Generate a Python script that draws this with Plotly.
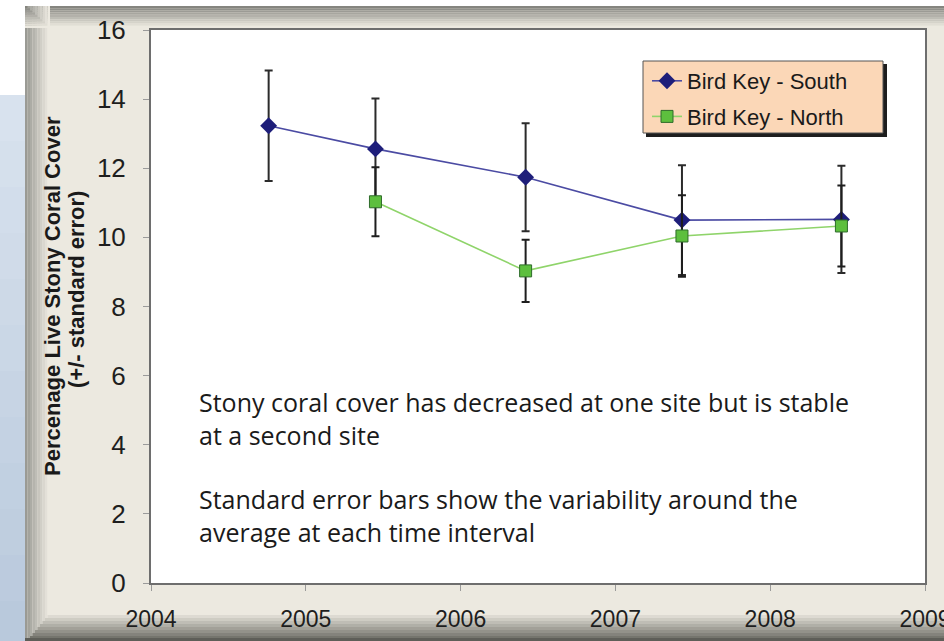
import plotly.graph_objects as go

# survey data (decimal year, % live stony coral cover, standard error)
years_south = [2004.76, 2005.45, 2006.42, 2007.43, 2008.46]
cover_south = [13.23, 12.56, 11.74, 10.50, 10.52]
se_south = [1.60, 1.46, 1.56, 1.59, 1.55]

years_north = [2005.45, 2006.42, 2007.43, 2008.46]
cover_north = [11.03, 9.03, 10.04, 10.33]
se_north = [1.00, 0.90, 1.18, 1.17]

x_ticks = [2004, 2005, 2006, 2007, 2008, 2009]
y_ticks = [0, 2, 4, 6, 8, 10, 12, 14, 16]

W, H = 944, 641
L, R, T, B = 151, 925, 30, 583
BEIGE = "#ECE9E0"


def px_x(x):
	return (x - L) / (R - L)


def px_y(y):
	return (B - y) / (B - T)


def mix(c1, c2, t):
	a = [int(c1[i:i + 2], 16) for i in (1, 3, 5)]
	b = [int(c2[i:i + 2], 16) for i in (1, 3, 5)]
	return "rgb(%d,%d,%d)" % tuple(round(a[k] + (b[k] - a[k]) * t) for k in range(3))


def rect(x0, y0, x1, y1, color, layer = "below"):
	return dict(type = "rect", xref = "paper", yref = "paper",
	            x0 = px_x(x0), x1 = px_x(x1), y0 = px_y(y1), y1 = px_y(y0),
	            fillcolor = color, line = dict(width = 0), layer = layer)


shapes = []
# photo strip on the left and the bevelled frame of the panel
shapes.append(rect(0, 0, 25, 95, "#FFFFFF"))
for i in range(12):
	y0 = 95 + i * 46
	shapes.append(rect(0, y0, 25, y0 + 46, mix("#D8E2EE", "#B9C9DC", i / 11)))
shapes.append(rect(25, 0, W, 6, "#FFFFFF"))
n = 10
for i in range(n):
	shapes.append(rect(25 + i * 2.5, 6, 25 + (i + 1) * 2.5, 641, mix("#9A9A94", BEIGE, i / (n - 1))))
	shapes.append(rect(25, 6 + i * 2.2, W, 6 + (i + 1) * 2.2, mix("#85857F", BEIGE, i / (n - 1))))
for i in range(n):
	y0 = 612 + i * 3
	shapes.append(rect(25 + (n - i) * 2.5, y0, W, y0 + 3, mix(BEIGE, "#66665F", i / (n - 1))))
shapes.append(rect(25, 641 - 3, W, 641, "#5E5E58"))

# legend box with its drop shadow
shapes.append(rect(646, 64, 887, 137, "#1E1E1E", layer = "above"))
shapes.append(dict(type = "rect", xref = "paper", yref = "paper",
                   x0 = px_x(643), x1 = px_x(883), y0 = px_y(133), y1 = px_y(61),
                   fillcolor = "#FBD7B7", line = dict(color = "#555555", width = 1), layer = "above"))

fig = go.Figure()

fig.add_trace(go.Scatter(
	x = years_south, y = cover_south, name = "Bird Key - South", mode = "lines+markers",
	legendgroup = "south",
	line = dict(color = "#4B4BA3", width = 1.6),
	marker = dict(symbol = "diamond", size = 13, color = "#1E1E7A", line = dict(width = 0)),
	error_y = dict(type = "data", array = se_south, color = "#2B2B2B", thickness = 2, width = 4),
))
fig.add_trace(go.Scatter(
	x = years_north, y = cover_north, name = "Bird Key - North", mode = "lines+markers",
	legendgroup = "north",
	line = dict(color = "#8FD46A", width = 1.6),
	marker = dict(symbol = "square", size = 12, color = "#5DBF3E", line = dict(color = "#2E6B2A", width = 1)),
	error_y = dict(type = "data", array = se_north, color = "#1E1E1E", thickness = 2, width = 4),
))

note_font = dict(family = "Open Sans, Noto Sans, sans-serif", size = 25, color = "#1A1A1A")
annotations = [
	dict(text = "Stony coral cover has decreased at one site but is stable<br>at a second site",
	     xref = "paper", yref = "paper", x = px_x(197), y = px_y(383), xanchor = "left", yanchor = "top",
	     align = "left", showarrow = False, font = note_font),
	dict(text = "Standard error bars show the variability around the<br>average at each time interval",
	     xref = "paper", yref = "paper", x = px_x(197), y = px_y(480), xanchor = "left", yanchor = "top",
	     align = "left", showarrow = False, font = note_font),
	dict(text = "<b>Percenage Live Stony Coral Cover</b>", textangle = -90,
	     xref = "paper", yref = "paper", x = px_x(52), y = px_y(296), xanchor = "center", yanchor = "middle",
	     showarrow = False, font = dict(family = "Arial, Liberation Sans", size = 22, color = "#1A1A1A")),
	dict(text = "<b>(+/- standard error)</b>", textangle = -90,
	     xref = "paper", yref = "paper", x = px_x(76), y = px_y(290), xanchor = "center", yanchor = "middle",
	     showarrow = False, font = dict(family = "Arial, Liberation Sans", size = 22, color = "#1A1A1A")),
]

fig.update_layout(
	width = W, height = H,
	margin = dict(l = L, r = W - R, t = T, b = H - B),
	paper_bgcolor = BEIGE, plot_bgcolor = "#FFFFFF",
	shapes = shapes, annotations = annotations,
	showlegend = True,
	legend = dict(x = px_x(647), y = px_y(60), xanchor = "left", yanchor = "top",
	              bgcolor = "rgba(0,0,0,0)", borderwidth = 0, tracegroupgap = 4,
	              font = dict(family = "Arial, Liberation Sans", size = 22, color = "#1A1A1A")),
	xaxis = dict(range = [2004, 2009], tickvals = x_ticks, ticktext = [str(v) for v in x_ticks],
	             showgrid = False, zeroline = False, showline = True, mirror = True, automargin = False,
	             linecolor = "#6E6E6E", linewidth = 2, ticks = "outside", ticklen = 6, tickcolor = "#9A9A9A",
	             ticklabelstandoff = 8, ticklabeloverflow = "allow",
	             tickfont = dict(family = "Arial, Liberation Sans", size = 23, color = "#1E1E1E")),
	yaxis = dict(range = [0, 16], tickvals = y_ticks,
	             showgrid = False, zeroline = False, showline = True, mirror = True, automargin = False,
	             linecolor = "#6E6E6E", linewidth = 2, ticks = "outside", ticklen = 6, tickcolor = "#9A9A9A",
	             ticklabelstandoff = 12,
	             tickfont = dict(family = "Arial, Liberation Sans", size = 26, color = "#1E1E1E")),
)

# drop the browser's default page margin so the figure sits at the window's corner
fig.write_html("out.html", config = {"displayModeBar": False},
               post_script = "document.body.style.margin = '0';")
